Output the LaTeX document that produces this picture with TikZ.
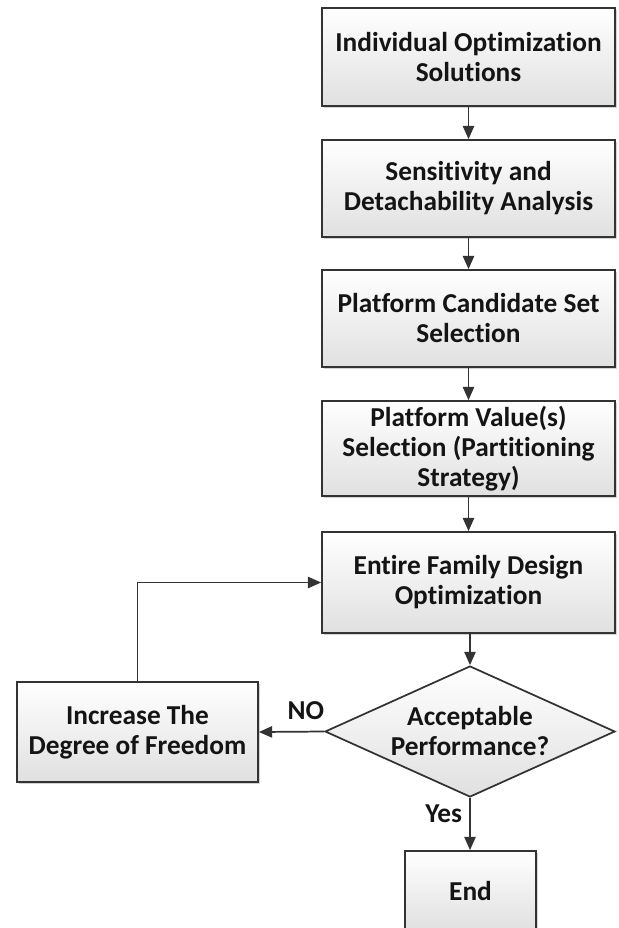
\documentclass[tikz,border=0pt]{standalone}
\usepackage{fontspec}
\setmainfont{Carlito}[Ligatures=NoCommon]
\usetikzlibrary{shapes.geometric,arrows.meta,shadows}
\definecolor{txt}{HTML}{141414}
\definecolor{ln}{HTML}{333333}
\definecolor{fillbot}{HTML}{E0E0E0}
\tikzset{
  box/.style={rectangle, draw=ln, line width=1.3pt, top color=white, bottom color=fillbot,
    text=txt, font=\bfseries\fontsize{20.5}{22.5}\selectfont, align=center,
    drop shadow={shadow xshift=1.5pt, shadow yshift=-1.5pt, opacity=0.35, fill=gray},
    inner sep=0pt},
  dec/.style={diamond, draw=ln, line width=1.3pt, top color=white, bottom color=fillbot,
    text=txt, font=\bfseries\fontsize{20.5}{22.5}\selectfont, align=center, inner sep=0pt,
    aspect=2.2, minimum width=217.5pt, minimum height=98.25pt},
  conn/.style={draw=ln, line width=1.3pt, -{Triangle[length=10pt,width=8.5pt]}},
  lab/.style={text=txt, font=\bfseries\fontsize{20.5}{22.5}\selectfont}
}
\begin{document}
\begin{tikzpicture}[x=0.75pt,y=-0.75pt]
\useasboundingbox (0,0) rectangle (618,928);
\clip (0,0) rectangle (618,928);
\node[box, minimum width=219.75pt, minimum height=73.5pt] (b1) at (468.5,57) {Individual Optimization\\Solutions};
\node[box, minimum width=219.75pt, minimum height=72.75pt] (b2) at (468.5,188.5) {Sensitivity and\\Detachability Analysis};
\node[box, minimum width=219.75pt, minimum height=72.75pt] (b3) at (468.5,318.5) {Platform Candidate Set\\Selection};
\node[box, minimum width=219.75pt, minimum height=71.25pt] (b4) at (468.5,448.5) {Platform Value(s)\\Selection (Partitioning\\Strategy)};
\node[box, minimum width=219.75pt, minimum height=75.75pt] (b5) at (468.5,582.5) {Entire Family Design\\Optimization};
\node[dec] (d) at (470,731.5) {Acceptable\\Performance?};
\node[box, minimum width=180.75pt, minimum height=75pt] (b6) at (137.5,732) {Increase The\\Degree of Freedom};
\node[box, minimum width=98.25pt, minimum height=60pt] (e) at (470.5,891) {End};
\draw[conn] (b1.south) -- (b2.north);
\draw[conn] (b2.south) -- (b3.north);
\draw[conn] (b3.south) -- (b4.north);
\draw[conn] (b4.south) -- (b5.north);
\draw[conn] (b5.south -| d.north) -- (d.north);
\draw[conn] (d.west) -- (b6.east) node[lab, pos=0.28, above=5pt] (no) {NO};
\draw[conn] (d.south) -- (d.south |- e.north) node[lab, pos=0.3, left=2pt] (yes) {Yes};
\draw[conn] (b6.north) |- (b5.west);
\end{tikzpicture}
\end{document}
